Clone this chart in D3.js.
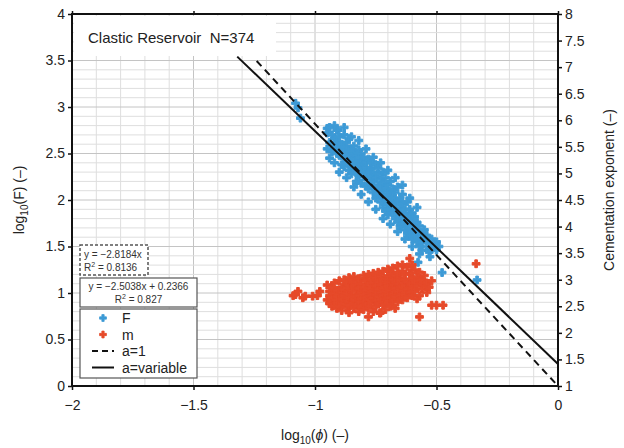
<!DOCTYPE html>
<html>
<head>
<meta charset="utf-8">
<script src="https://cdn.jsdelivr.net/npm/d3@7"></script>
<style>
  body { margin: 0; background: #fff; }
  text { font-family: "Liberation Sans", Arial, sans-serif; }
</style>
</head>
<body>
<div id="chart"></div>
<script>
// tick values
var leftTicks = [0, 0.5, 1, 1.5, 2, 2.5, 3, 3.5, 4];
var rightTicks = [1, 1.5, 2, 2.5, 3, 3.5, 4, 4.5, 5, 5.5, 6, 6.5, 7, 7.5, 8];
var xTicks = [-2, -1.5, -1, -0.5, 0];

// fitted lines: log10(F) = slope * log10(phi) + intercept
var fitFixed = { slope: -2.8184, intercept: 0, from: -1.24 };   // a=1
var fitFree = { slope: -2.5038, intercept: 0.2366, from: -1.32 }; // a=variable

// F points: [log10(phi), log10(F)]
var pointsF = [
  [-1.08,3.04],[-1.07,2.99],[-1.06,2.88],[-0.95,2.77],[-0.905,2.75],
  [-0.95,2.72],[-0.95,2.55],[-0.94,2.62],[-0.94,2.45],[-0.94,2.78],
  [-0.93,2.70],[-0.93,2.52],[-0.92,2.58],[-0.92,2.66],[-0.92,2.40],
  [-0.91,2.75],[-0.91,2.50],[-0.91,2.62],[-0.90,2.48],[-0.90,2.68],[-0.90,2.56],
  [-0.89,2.60],[-0.89,2.38],[-0.89,2.52],[-0.88,2.70],[-0.88,2.45],[-0.88,2.57],[-0.88,2.36],
  [-0.87,2.50],[-0.87,2.62],[-0.87,2.40],[-0.86,2.55],[-0.86,2.32],[-0.86,2.46],[-0.86,2.66],
  [-0.85,2.38],[-0.85,2.52],[-0.85,2.28],[-0.84,2.58],[-0.84,2.44],[-0.84,2.35],[-0.84,2.50],
  [-0.83,2.30],[-0.83,2.48],[-0.83,2.40],[-0.83,2.20],[-0.82,2.54],[-0.82,2.36],[-0.82,2.45],[-0.82,2.26],
  [-0.81,2.42],[-0.81,2.32],[-0.81,2.50],[-0.81,2.18],[-0.80,2.38],[-0.80,2.25],[-0.80,2.46],[-0.80,2.32],
  [-0.79,2.28],[-0.79,2.40],[-0.79,2.15],[-0.79,2.35],[-0.78,2.44],[-0.78,2.22],[-0.78,2.30],[-0.78,2.12],
  [-0.77,2.35],[-0.77,2.18],[-0.77,2.26],[-0.77,2.40],[-0.76,2.20],[-0.76,2.30],[-0.76,2.08],[-0.76,2.14],
  [-0.75,2.38],[-0.75,2.24],[-0.75,2.12],[-0.75,2.02],[-0.74,2.28],[-0.74,2.16],[-0.74,2.06],[-0.74,2.34],
  [-0.73,2.10],[-0.73,2.22],[-0.73,1.98],[-0.73,2.15],[-0.72,2.30],[-0.72,2.04],[-0.72,2.18],[-0.72,1.92],
  [-0.71,2.12],[-0.71,2.00],[-0.71,2.24],[-0.71,1.88],[-0.70,2.06],[-0.70,1.95],[-0.70,2.16],[-0.70,1.84],
  [-0.69,2.20],[-0.69,1.98],[-0.69,1.90],[-0.69,2.08],[-0.68,2.02],[-0.68,1.86],[-0.68,2.12],[-0.68,1.94],
  [-0.67,1.96],[-0.67,2.08],[-0.67,1.80],[-0.67,1.90],[-0.66,2.14],[-0.66,1.88],[-0.66,1.98],[-0.66,1.76],
  [-0.65,1.92],[-0.65,2.02],[-0.65,1.82],[-0.65,1.72],[-0.64,1.84],[-0.64,1.96],[-0.64,1.74],[-0.64,2.06],
  [-0.63,1.90],[-0.63,1.78],[-0.63,1.68],[-0.63,1.86],[-0.62,1.98],[-0.62,1.72],[-0.62,1.82],[-0.62,1.64],
  [-0.61,1.80],[-0.61,1.70],[-0.61,1.90],[-0.61,1.62],[-0.60,1.74],[-0.60,1.86],[-0.60,1.66],[-0.60,1.58],
  [-0.59,1.82],[-0.59,1.62],[-0.59,1.70],[-0.58,1.66],[-0.58,1.76],[-0.58,1.55],
  [-0.57,1.72],[-0.57,1.60],[-0.57,1.50],[-0.56,1.64],[-0.56,1.54],[-0.56,1.46],
  [-0.55,1.68],[-0.55,1.58],[-0.54,1.50],[-0.54,1.62],[-0.53,1.56],[-0.53,1.44],
  [-0.52,1.58],[-0.52,1.48],[-0.51,1.52],[-0.50,1.46],[-0.50,1.55],[-0.49,1.50],
  [-0.92,2.80],[-0.88,2.78],[-0.85,2.68],[-0.82,2.64],[-0.79,2.55],[-0.76,2.46],
  [-0.73,2.40],[-0.70,2.32],[-0.67,2.24],[-0.64,2.16],[-0.61,2.02],[-0.58,1.92],
  [-0.90,2.30],[-0.87,2.24],[-0.84,2.14],[-0.81,2.06],[-0.78,1.98],[-0.75,1.90],
  [-0.72,1.80],[-0.69,1.74],[-0.66,1.66],[-0.63,1.58],[-0.60,1.50],[-0.57,1.42],
  [-0.576,1.33],[-0.527,1.39],[-0.477,1.22],[-0.333,1.14]
];

// m points: [log10(phi), cementation exponent]
var pointsM = [
  [-1.09,2.70],[-1.08,2.72],[-1.07,2.78],[-1.05,2.66],[-1.04,2.69],[-1.01,2.69],[-0.99,2.70],[-0.98,2.78],
  [-0.95,2.90],[-0.95,2.62],[-0.94,2.78],[-0.94,2.70],[-0.94,2.55],[-0.93,2.85],[-0.93,2.66],[-0.93,2.50],
  [-0.92,2.94],[-0.92,2.74],[-0.92,2.60],[-0.91,2.80],[-0.91,2.56],[-0.91,2.68],[-0.91,2.46],
  [-0.90,2.98],[-0.90,2.72],[-0.90,2.62],[-0.90,2.50],[-0.89,2.86],[-0.89,2.64],[-0.89,2.76],[-0.89,2.42],
  [-0.88,3.00],[-0.88,2.70],[-0.88,2.55],[-0.88,2.82],[-0.87,2.92],[-0.87,2.60],[-0.87,2.74],[-0.87,2.48],
  [-0.86,2.84],[-0.86,2.66],[-0.86,3.04],[-0.86,2.52],[-0.86,2.38],[-0.85,2.96],[-0.85,2.72],[-0.85,2.58],[-0.85,2.80],
  [-0.84,3.06],[-0.84,2.62],[-0.84,2.88],[-0.84,2.46],[-0.83,2.78],[-0.83,2.96],[-0.83,2.54],[-0.83,2.68],
  [-0.82,3.02],[-0.82,2.70],[-0.82,2.84],[-0.82,2.40],[-0.82,2.60],[-0.81,2.92],[-0.81,2.64],[-0.81,2.76],[-0.81,2.50],
  [-0.80,3.08],[-0.80,2.86],[-0.80,2.58],[-0.80,2.72],[-0.80,2.44],[-0.79,2.98],[-0.79,2.66],[-0.79,2.80],[-0.79,2.54],
  [-0.78,3.10],[-0.78,2.90],[-0.78,2.62],[-0.78,2.74],[-0.78,2.46],[-0.77,2.84],[-0.77,3.00],[-0.77,2.56],[-0.77,2.70],
  [-0.76,3.12],[-0.76,2.94],[-0.76,2.66],[-0.76,2.78],[-0.76,2.40],[-0.75,2.88],[-0.75,3.04],[-0.75,2.60],[-0.75,2.72],[-0.75,2.50],
  [-0.74,3.14],[-0.74,2.82],[-0.74,2.68],[-0.74,2.96],[-0.74,2.54],[-0.73,3.06],[-0.73,2.90],[-0.73,2.62],[-0.73,2.76],[-0.73,2.38],
  [-0.72,3.16],[-0.72,2.84],[-0.72,2.70],[-0.72,2.98],[-0.72,2.52],[-0.71,3.02],[-0.71,2.78],[-0.71,2.64],[-0.71,2.92],[-0.71,2.44],
  [-0.70,3.20],[-0.70,2.88],[-0.70,2.72],[-0.70,3.06],[-0.70,2.56],[-0.69,2.96],[-0.69,2.80],[-0.69,2.66],[-0.69,3.12],[-0.69,2.50],
  [-0.68,3.22],[-0.68,2.90],[-0.68,2.74],[-0.68,3.00],[-0.68,2.60],[-0.67,3.08],[-0.67,2.84],[-0.67,2.68],[-0.67,2.96],[-0.67,2.46],
  [-0.66,3.26],[-0.66,2.92],[-0.66,2.78],[-0.66,3.14],[-0.66,2.58],[-0.65,3.04],[-0.65,2.86],[-0.65,2.70],[-0.65,2.98],
  [-0.64,3.28],[-0.64,2.94],[-0.64,2.80],[-0.64,3.16],[-0.64,2.62],[-0.63,3.10],[-0.63,2.88],[-0.63,2.72],[-0.63,3.00],
  [-0.62,3.24],[-0.62,2.96],[-0.62,2.82],[-0.62,2.66],[-0.61,3.40],[-0.61,3.12],[-0.61,2.90],[-0.61,2.76],
  [-0.60,3.28],[-0.60,3.02],[-0.60,2.84],[-0.60,2.70],[-0.59,3.18],[-0.59,2.94],[-0.59,2.78],
  [-0.58,3.06],[-0.58,2.88],[-0.58,2.64],[-0.57,3.14],[-0.57,2.98],[-0.57,2.30],[-0.57,2.70],
  [-0.56,3.00],[-0.56,2.82],[-0.55,3.08],[-0.55,2.90],[-0.54,2.94],[-0.54,2.76],[-0.53,2.86],
  [-0.52,2.98],[-0.52,2.52],[-0.50,2.52],[-0.473,2.52],[-0.337,3.30],[-0.733,2.37],[-0.78,2.30]
];

var margin = { top: 14, right: 66, bottom: 62, left: 72 },
  width = 624 - margin.left - margin.right,
  height = 448 - margin.top - margin.bottom;

var svg = d3.select("#chart")
  .append("svg")
  .attr("width", 624)
  .attr("height", 448);

var g = svg.append("g")
  .attr("transform", "translate(" + margin.left + "," + margin.top + ")");

var x = d3.scaleLinear().domain([-2, 0]).range([0, width]);
var yL = d3.scaleLinear().domain([0, 4]).range([height, 0]);
var yR = d3.scaleLinear().domain([1, 8]).range([height, 0]);

// grid
var gx = d3.range(-20, 1).map(function (d) { return d / 10; });
var gy = d3.range(0, 41).map(function (d) { return d / 10; });
g.selectAll(".vgrid").data(gx).enter().append("line")
  .attr("x1", function (d) { return x(d); })
  .attr("x2", function (d) { return x(d); })
  .attr("y1", 0).attr("y2", height)
  .attr("stroke", function (d, i) { return i % 5 === 0 ? "#c4c4c4" : "#dedede"; })
  .attr("stroke-width", 1);
g.selectAll(".hgrid").data(gy).enter().append("line")
  .attr("x1", 0).attr("x2", width)
  .attr("y1", function (d) { return yL(d); })
  .attr("y2", function (d) { return yL(d); })
  .attr("stroke", function (d, i) { return i % 5 === 0 ? "#c4c4c4" : "#dedede"; })
  .attr("stroke-width", 1);

// title box
g.append("rect")
  .attr("x", 2).attr("y", 2).attr("width", 202).attr("height", 40)
  .attr("fill", "#fff");
g.append("text")
  .attr("x", 16).attr("y", 29)
  .style("font-size", "15px")
  .attr("fill", "#222")
  .text("Clastic Reservoir\u00a0\u00a0N=374");

// points
var sym = d3.symbol().type(d3.symbolCross).size(34);
g.selectAll(".ptF").data(pointsF).enter().append("path")
  .attr("d", sym)
  .attr("transform", function (d) { return "translate(" + x(d[0]) + "," + yL(d[1]) + ")"; })
  .attr("fill", "#3d9ad6")
  .attr("stroke", "#3d9ad6")
  .attr("stroke-width", 1)
  .attr("stroke-linejoin", "round");

g.selectAll(".ptM").data(pointsM).enter().append("path")
  .attr("d", sym)
  .attr("transform", function (d) { return "translate(" + x(d[0]) + "," + yR(d[1]) + ")"; })
  .attr("fill", "#e64a2a")
  .attr("stroke", "#e64a2a")
  .attr("stroke-width", 1)
  .attr("stroke-linejoin", "round");

// fit lines
function fitLine(f) {
  return [[f.from, f.slope * f.from + f.intercept], [0, f.intercept]];
}
var line = d3.line()
  .x(function (d) { return x(d[0]); })
  .y(function (d) { return yL(d[1]); });

g.append("path")
  .attr("d", line(fitLine(fitFixed)))
  .attr("fill", "none")
  .attr("stroke", "#111")
  .attr("stroke-width", 2)
  .attr("stroke-dasharray", "7,5");
g.append("path")
  .attr("d", line(fitLine(fitFree)))
  .attr("fill", "none")
  .attr("stroke", "#111")
  .attr("stroke-width", 2);

// axes
var axL = g.append("g")
  .call(d3.axisLeft(yL).tickValues(leftTicks).tickSize(4).tickFormat(function (d) { return d; }));
var axR = g.append("g")
  .attr("transform", "translate(" + width + ",0)")
  .call(d3.axisRight(yR).tickValues(rightTicks).tickSize(4).tickFormat(function (d) { return d; }));
var axB = g.append("g")
  .attr("transform", "translate(0," + height + ")")
  .call(d3.axisBottom(x).tickValues(xTicks).tickSize(4).tickPadding(10)
    .tickFormat(function (d) { return d === 0 ? "0" : "\u2212" + Math.abs(d); }));
var axT = g.append("g")
  .call(d3.axisTop(x).tickValues(xTicks).tickSize(3).tickFormat(""));
[axL, axR, axB, axT].forEach(function (a) {
  a.select(".domain").remove();
  a.selectAll(".tick line").attr("stroke", "#111").attr("stroke-width", 1.5);
  a.selectAll("text")
    .style("font-size", "14px")
    .style("font-family", "Liberation Sans, Arial, sans-serif")
    .attr("fill", "#222");
});

// frame
g.append("rect")
  .attr("x", 0).attr("y", 0).attr("width", width).attr("height", height)
  .attr("fill", "none").attr("stroke", "#111").attr("stroke-width", 2);

// equation boxes
var eq1 = g.append("g").attr("transform", "translate(8,231)");
eq1.append("rect").attr("width", 68).attr("height", 30)
  .attr("fill", "#fff").attr("stroke", "#555").attr("stroke-width", 1.5)
  .attr("stroke-dasharray", "3,2");
eq1.append("text").attr("x", 4).attr("y", 13).style("font-size", "10px").attr("fill", "#333")
  .text("y = \u22122.8184x");
var t1 = eq1.append("text").attr("x", 4).attr("y", 26).style("font-size", "10px").attr("fill", "#333");
t1.append("tspan").text("R");
t1.append("tspan").attr("dy", -4).style("font-size", "7px").text("2");
t1.append("tspan").attr("dy", 4).text(" = 0.8136");

var eq2 = g.append("g").attr("transform", "translate(8,264)");
eq2.append("rect").attr("width", 117).attr("height", 29)
  .attr("fill", "#fff").attr("stroke", "#555").attr("stroke-width", 1.2);
eq2.append("text").attr("x", 58.5).attr("y", 12).attr("text-anchor", "middle")
  .style("font-size", "10px").attr("fill", "#333")
  .text("y = \u22122.5038x + 0.2366");
var t2 = eq2.append("text").attr("x", 58.5).attr("y", 25).attr("text-anchor", "middle")
  .style("font-size", "10px").attr("fill", "#333");
t2.append("tspan").text("R");
t2.append("tspan").attr("dy", -4).style("font-size", "7px").text("2");
t2.append("tspan").attr("dy", 4).text(" = 0.827");

// legend
var legendKeys = ["F", "m", "a=1", "a=variable"];
var leg = g.append("g").attr("transform", "translate(8,295)");
leg.append("rect").attr("width", 117).attr("height", 69)
  .attr("fill", "#fff").attr("stroke", "#555").attr("stroke-width", 1.2);
var items = leg.selectAll(".lg").data(legendKeys).enter().append("g")
  .attr("transform", function (d, i) { return "translate(0," + (9 + i * 16.5) + ")"; });
items.append("text").attr("x", 42).attr("y", 5)
  .style("font-size", "14px").attr("fill", "#222")
  .text(function (d) { return d; });
items.each(function (d, i) {
  var it = d3.select(this);
  if (i < 2) {
    it.append("path")
      .attr("d", d3.symbol().type(d3.symbolCross).size(26))
      .attr("transform", "translate(23,0)")
      .attr("fill", i === 0 ? "#3d9ad6" : "#e64a2a")
      .attr("stroke", i === 0 ? "#3d9ad6" : "#e64a2a")
      .attr("stroke-width", 0.8);
  } else {
    it.append("line").attr("x1", 12).attr("x2", 34).attr("y1", 0).attr("y2", 0)
      .attr("stroke", "#111").attr("stroke-width", 2)
      .attr("stroke-dasharray", i === 2 ? "6,4" : null);
  }
});

// axis titles
var xt = svg.append("text")
  .attr("x", margin.left + width / 2).attr("y", 440)
  .attr("text-anchor", "middle").style("font-size", "14px").attr("fill", "#222");
xt.append("tspan").text("log");
xt.append("tspan").attr("dy", 4).style("font-size", "10px").text("10");
xt.append("tspan").attr("dy", -4).text("(");
xt.append("tspan").style("font-style", "italic").text("\u03d5");
xt.append("tspan").text(") (\u2013)");

var yt = svg.append("text")
  .attr("transform", "translate(24,200) rotate(-90)")
  .attr("text-anchor", "middle").style("font-size", "14px").attr("fill", "#222");
yt.append("tspan").text("log");
yt.append("tspan").attr("dy", 4).style("font-size", "10px").text("10");
yt.append("tspan").attr("dy", -4).text("(F) (\u2013)");

svg.append("text")
  .attr("transform", "translate(614,190) rotate(-90)")
  .attr("text-anchor", "middle").style("font-size", "14px").attr("fill", "#222")
  .text("Cementation exponent (\u2013)");
</script>
</body>
</html>
